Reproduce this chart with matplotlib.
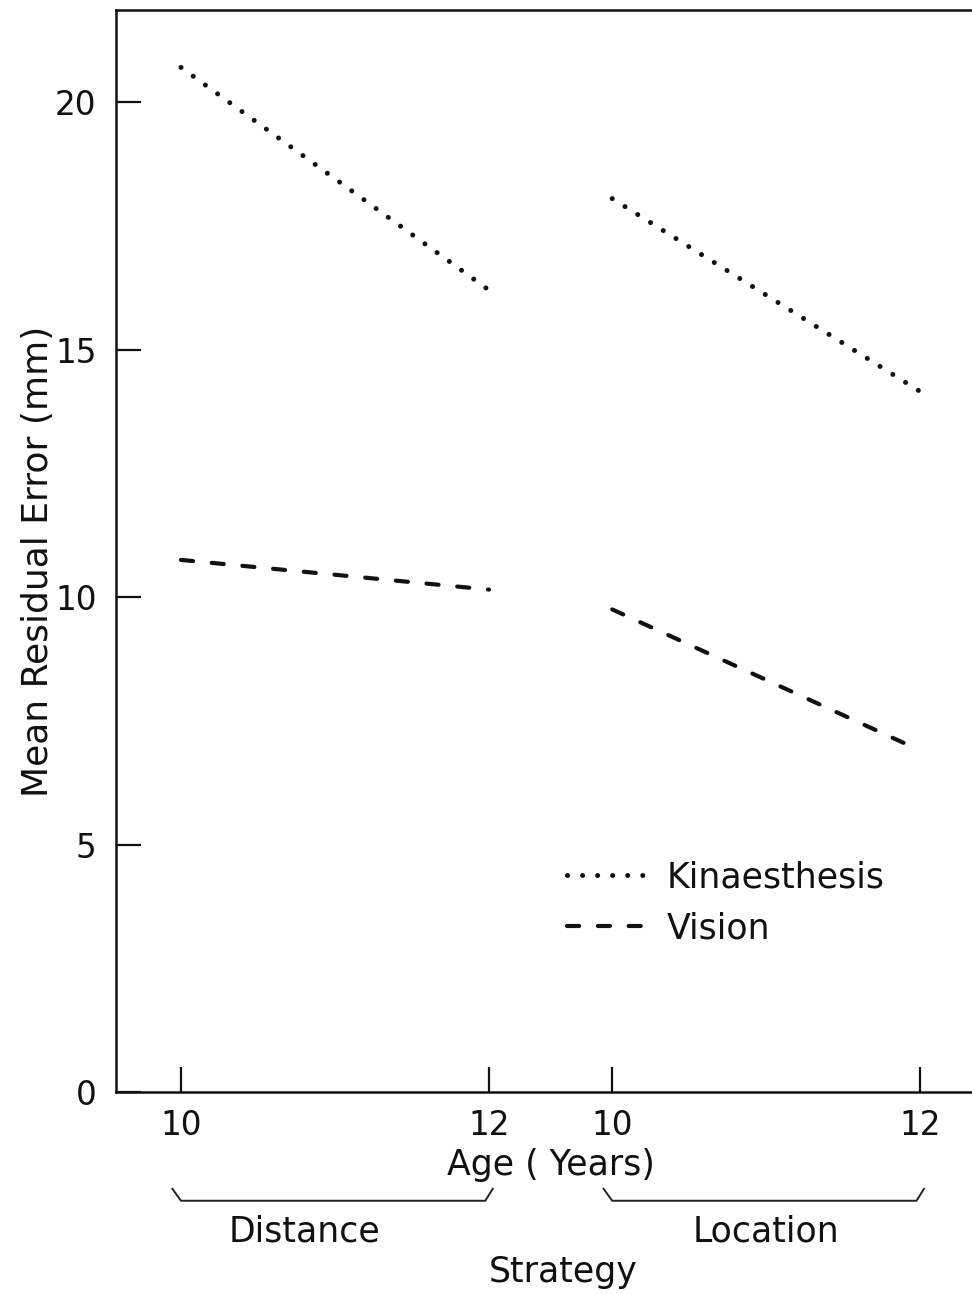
import matplotlib
matplotlib.use("Agg")
import matplotlib.pyplot as plt
from matplotlib.transforms import blended_transform_factory

# ---- data ----
strategies = ["Distance", "Location"]
ages = ["10", "12"]
x_pos = [0.0, 1.0, 1.4, 2.4]          # Distance-10, Distance-12, Location-10, Location-12
tick_labels = ["10", "12", "10", "12"]
kin_distance = [20.7, 16.2]
kin_location = [18.05, 14.15]
vis_distance = [10.75, 10.15]
vis_location = [9.75, 6.9]
yticks = [0, 5, 10, 15, 20]

plt.rcParams['font.family'] = ['DejaVu Sans']
FS = 25
TFS = 23.5

fig = plt.figure(figsize=(9.72, 12.94), dpi=100)
W, H = 972, 1294
left_px, right_px, bottom_px, top_px = 116, 980, 1092, 10
ax = fig.add_axes([left_px / W, 1 - bottom_px / H,
                   (right_px - left_px) / W, (bottom_px - top_px) / H])

dot_style = dict(color='#111111', lw=3.6, linestyle=(0, (0.01, 3.0)),
                 dash_capstyle='round')
dash_style = dict(color='#111111', lw=3.0, linestyle=(0, (2.9, 4.5)),
                  dash_capstyle='round')

ax.plot(x_pos[0:2], kin_distance, label='Kinaesthesis', **dot_style)
ax.plot(x_pos[2:4], kin_location, **dot_style)
ax.plot(x_pos[0:2], vis_distance, label='Vision', **dash_style)
ax.plot(x_pos[2:4], vis_location, **dash_style)

ax.set_xlim(-0.211, 2.594)
ax.set_ylim(0, 21.86)

ax.set_xticks(x_pos)
ax.set_xticklabels(tick_labels)
ax.set_yticks(yticks)
ax.set_yticklabels([str(v) for v in yticks])
ax.tick_params(axis='both', direction='in', length=18, width=1.6,
               labelsize=TFS, color='#111111', labelcolor='#111111')
ax.tick_params(axis='y', pad=14)
ax.tick_params(axis='x', pad=12)

for s in ['left', 'bottom', 'top']:
    ax.spines[s].set_linewidth(1.8)
    ax.spines[s].set_color('#111111')
ax.spines['right'].set_visible(False)

ax.set_ylabel('Mean Residual Error (mm)', fontsize=FS + 1, color='#111111')
ax.yaxis.set_label_coords(-0.071, 0.49)

leg = ax.legend(loc='upper left', bbox_to_anchor=(0.522, 0.214), frameon=False,
                fontsize=FS, handlelength=2.36, handletextpad=0.52,
                labelspacing=0.48, borderpad=0, borderaxespad=0)
for t in leg.get_texts():
    t.set_color('#111111')

# ---- group annotations below the axis ----
tr = blended_transform_factory(ax.transData, ax.transAxes)
ax.text((x_pos[1] + x_pos[2]) / 2, -0.0675, 'Age ( Years)', transform=tr,
        ha='center', va='center', fontsize=FS, color='#111111')

groups = [(x_pos[0], x_pos[1], 0.40), (x_pos[2], x_pos[3], 1.9)]
for (xa, xb, xc), name in zip(groups, strategies):
    bx = [xa - 0.028, xa, xb - 0.012, xb + 0.012]
    by = [-0.0895, -0.1005, -0.1005, -0.0895]
    ax.plot(bx, by, transform=tr, clip_on=False, color='#222222', lw=1.4)
    ax.text(xc, -0.129, name, transform=tr, ha='center', va='center',
            fontsize=FS, color='#111111')

ax.text(1.24, -0.166, 'Strategy', transform=tr, ha='center', va='center',
        fontsize=FS, color='#111111')

fig.savefig('out.png', dpi=100)
